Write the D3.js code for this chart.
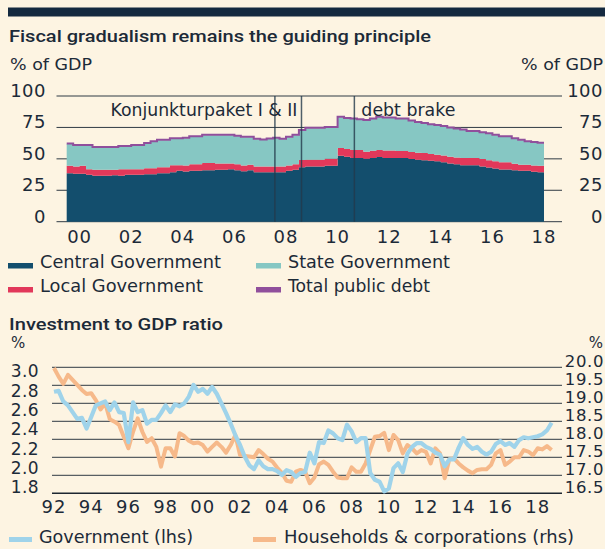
<!DOCTYPE html>
<html><head><meta charset="utf-8">
<script src="https://cdn.jsdelivr.net/npm/d3@7"></script>
<style>body{margin:0;background:#fdf4e2}</style>
</head><body>
<svg id="c" width="605" height="549"></svg>
<script>
// ---------- DATA: fiscal chart (quarterly, from 2000 Q1, % of GDP) ----------
const fiscalStartYear = 2000;
const centralGov = [38.6,38.1,38.1,37.3,36.5,36.5,36.5,36.9,36.5,37.3,
  37.3,37.3,37.8,37.8,38.6,38.6,39.4,40.5,40.0,40.5,
  40.5,41.0,41.0,41.3,41.3,41.8,41.0,40.2,41.0,39.4,
  39.4,39.4,39.4,39.4,40.5,41.3,43.4,44.0,44.0,44.0,
  44.5,44.5,52.4,51.6,50.6,50.6,50.0,50.6,51.4,50.6,
  50.6,50.6,50.6,49.8,49.3,48.8,48.4,48.0,47.2,46.4,
  45.8,45.0,45.0,45.0,44.0,43.2,42.4,41.6,41.6,41.0,
  40.5,40.5,39.7,39.4];
const localGov = [5.9,5.9,6.4,4.5,4.8,4.8,4.8,4.4,5.3,4.5,
  4.5,4.5,4.8,4.8,4.8,4.8,5.6,4.5,4.8,5.3,
  5.3,5.6,5.6,5.0,5.0,4.5,4.8,4.6,4.4,4.6,
  4.6,4.6,4.6,4.6,4.3,4.5,5.6,5.3,5.3,5.3,
  5.5,5.5,6.2,6.2,6.4,6.4,5.6,5.8,5.6,6.0,
  6.0,5.7,5.7,5.6,5.5,5.8,5.4,5.2,5.5,5.2,
  5.3,5.6,5.6,5.6,5.8,5.6,5.6,5.6,5.6,5.1,
  4.8,4.8,5.1,5.1];
const stateGov = [17.3,16.7,16.2,18.9,17.8,17.8,17.8,17.8,18.1,18.1,
  18.9,18.9,19.7,21.0,21.3,21.3,21.0,21.0,21.5,21.8,
  21.8,22.1,22.1,22.4,22.4,22.4,22.1,22.3,21.7,21.5,
  21.0,21.7,22.3,21.5,22.3,22.9,23.5,25.0,25.0,25.0,
  25.0,25.0,24.4,24.4,24.7,24.1,25.0,25.3,26.0,25.9,
  25.9,25.4,25.4,24.7,24.2,23.6,23.3,23.4,23.1,22.9,
  22.6,22.3,21.2,21.2,21.0,21.2,20.7,20.4,20.4,19.9,
  19.4,18.3,18.3,18.0];
const totalDebt = [61.8,60.7,60.7,60.7,59.1,59.1,59.1,59.1,59.9,59.9,
  60.7,60.7,62.3,63.6,64.7,64.7,66.0,66.0,66.3,67.6,
  67.6,68.7,68.7,68.7,68.7,68.7,67.9,67.1,67.1,65.5,
  65.0,65.7,66.3,65.5,67.1,68.7,72.5,74.3,74.3,74.3,
  75.0,75.0,83.0,82.2,81.7,81.1,80.6,81.7,83.0,82.5,
  82.5,81.7,81.7,80.1,79.0,78.2,77.1,76.6,75.8,74.5,
  73.7,72.9,71.8,71.8,70.8,70.0,68.7,67.6,67.6,66.0,
  64.7,63.6,63.1,62.5];
const fiscalYTicks = [0,25,50,75,100];
const fiscalXTicks = ["00","02","04","06","08","10","12","14","16","18"];
const eventYears = [2008.07, 2009.1, 2011.15];
const eventLabels = ["Konjunkturpaket I & II", "debt brake"];
const fiscalSeriesNames = ["Central Government","State Government","Local Government","Total public debt"];

// ---------- DATA: investment chart (quarterly, from 1992 Q1, %) ----------
const investStartYear = 1992;
const govInvest = [2.85,2.86,2.75,2.71,2.64,2.57,2.58,2.47,2.59,2.71,
  2.73,2.75,2.66,2.74,2.64,2.63,2.33,2.74,2.64,2.66,
  2.52,2.56,2.56,2.63,2.71,2.64,2.72,2.70,2.73,2.80,
  2.92,2.85,2.88,2.83,2.90,2.83,2.73,2.63,2.52,2.40,
  2.30,2.18,2.09,2.05,2.14,2.08,2.05,2.05,2.03,1.99,
  2.04,2.02,1.97,2.01,2.02,2.22,2.11,2.33,2.32,2.45,
  2.42,2.37,2.35,2.51,2.44,2.33,2.37,2.37,2.01,1.94,
  1.92,1.82,1.85,2.06,2.11,2.02,2.21,2.28,2.32,2.32,
  2.28,2.26,2.22,2.20,2.08,2.15,2.15,2.27,2.37,2.30,
  2.26,2.28,2.23,2.20,2.23,2.31,2.34,2.30,2.32,2.28,
  2.35,2.38,2.37,2.38,2.39,2.41,2.45,2.53];
const hhInvest = [19.98,19.74,19.54,19.79,19.65,19.51,19.37,19.26,19.28,19.09,
  18.83,19.00,18.56,18.49,18.40,18.07,17.75,18.21,18.58,18.21,
  17.93,18.03,17.79,17.24,17.75,17.75,17.52,18.17,18.09,17.96,
  17.89,17.91,17.84,17.66,17.79,17.91,17.79,17.63,17.84,18.12,
  17.56,17.54,17.52,17.50,17.70,17.59,17.46,17.38,17.21,17.07,
  16.85,16.82,17.10,17.15,17.10,16.78,16.94,17.31,17.38,17.29,
  17.10,16.94,16.92,16.92,17.22,17.10,17.10,17.33,17.70,18.07,
  18.09,18.18,17.70,18.12,17.98,17.61,17.84,17.75,17.61,17.70,
  17.65,17.33,17.75,17.61,16.92,17.44,17.47,17.33,17.22,17.13,
  17.06,17.15,17.17,17.17,17.29,17.61,17.70,17.29,17.38,17.50,
  17.50,17.70,17.66,17.56,17.75,17.72,17.81,17.70];
const lhsTicks = ["3.0","2.8","2.6","2.4","2.2","2.0","1.8"];
const rhsTicks = ["20.0","19.5","19.0","18.5","18.0","17.5","17.0","16.5"];
const investXTicks = ["92","94","96","98","00","02","04","06","08","10","12","14","16","18"];
const investSeriesNames = ["Government (lhs)","Households & corporations (rhs)"];

// ---------- STYLE ----------
const BG = "#fdf4e2", INK = "#1c2a38", GRID = "#2f3a44";
const C_CENTRAL = "#134e6d", C_STATE = "#86c7c3", C_LOCAL = "#e2385a", C_TOTAL = "#904f9c";
const C_GOV = "#9fd3ea", C_HH = "#f6b98a";
const BODY = "'DejaVu Sans', sans-serif", HEAD = "Roboto, 'DejaVu Sans', sans-serif";

const svg = d3.select("#c");
svg.append("rect").attr("width", 605).attr("height", 549).attr("fill", BG);
svg.append("rect").attr("x", 8).attr("y", 7.5).attr("width", 597).attr("height", 9).attr("fill", "#14293f");

function txt(x, y, s, o = {}) {
  const t = svg.append("text").attr("x", x).attr("y", y).text(s)
    .attr("fill", o.fill || INK)
    .attr("font-family", o.family || BODY)
    .attr("font-size", o.size || 17)
    .attr("font-weight", o.weight || 400)
    .attr("text-anchor", o.anchor || "start");
  if (o.ls) t.attr("letter-spacing", o.ls);
  if (o.len) t.attr("textLength", o.len).attr("lengthAdjust", "spacingAndGlyphs");
  return t;
}

// ---------- TOP CHART ----------
txt(9, 42.3, "Fiscal gradualism remains the guiding principle", {family: HEAD, size: 16.5, weight: 500, len: 422});
txt(10, 70, "% of GDP", {size: 16.5, len: 82});
txt(603, 70, "% of GDP", {size: 16.5, anchor: "end", len: 82});

const xT = d3.scaleLinear().domain([fiscalStartYear, fiscalStartYear + 18.5]).range([66.7, 544]);
const yT = d3.scaleLinear().domain([0, 100]).range([221.7, 96]);

const gGridT = svg.append("g");
fiscalYTicks.forEach(v => {
  gGridT.append("line").attr("x1", 56.5).attr("x2", 562).attr("y1", yT(v)).attr("y2", yT(v))
    .attr("stroke", GRID).attr("stroke-width", 1);
  txt(46, yT(v) + 1, String(v), {size: 18, anchor: "end", ls: 0.5});
  txt(603, yT(v) + 1, String(v), {size: 18, anchor: "end", ls: 0.5});
});

const n = centralGov.length;
const rows = d3.range(n + 1).map(i => {
  const k = Math.min(i, n - 1);
  return {t: fiscalStartYear + i / 4, central: centralGov[k], local: localGov[k], state: stateGov[k], total: totalDebt[k]};
});
const stack = d3.stack().keys(["central", "local", "state"])(rows);
const colors = {central: C_CENTRAL, local: C_LOCAL, state: C_STATE};
const area = d3.area().curve(d3.curveStepAfter)
  .x(d => xT(d.data.t)).y0(d => yT(d[0])).y1(d => yT(d[1]));
svg.append("g").selectAll("path").data(stack).join("path")
  .attr("d", area).attr("fill", d => colors[d.key]);
svg.append("path").datum(rows)
  .attr("d", d3.line().curve(d3.curveStepAfter).x(d => xT(d.t)).y(d => yT(d.total) - 0.5))
  .attr("fill", "none").attr("stroke", C_TOTAL).attr("stroke-width", 2);

eventYears.forEach(e => {
  svg.append("line").attr("x1", xT(e)).attr("x2", xT(e)).attr("y1", yT(100)).attr("y2", yT(0))
    .attr("stroke", "#23394b").attr("stroke-opacity", 0.8).attr("stroke-width", 1.5);
});
txt(xT(eventYears[1]) - 4, 116, eventLabels[0], {size: 17, anchor: "end", len: 187});
txt(xT(eventYears[2]) + 7, 116, eventLabels[1], {size: 17, len: 94});

fiscalXTicks.forEach((s, i) => {
  txt(xT(fiscalStartYear + 2 * i + 0.5), 243.3, s, {size: 18, anchor: "middle", ls: 1});
});

// legend top
const legT = [
  {name: fiscalSeriesNames[0], c: C_CENTRAL, x: 8, y: 268, w: 181},
  {name: fiscalSeriesNames[1], c: C_STATE, x: 256, y: 268, w: 162},
  {name: fiscalSeriesNames[2], c: C_LOCAL, x: 8, y: 292, w: 163},
  {name: fiscalSeriesNames[3], c: C_TOTAL, x: 256, y: 292, w: 142}
];
legT.forEach(l => {
  svg.append("rect").attr("x", l.x).attr("y", l.y - 5).attr("width", 25).attr("height", 5.5).attr("fill", l.c);
  txt(l.x + 32, l.y, l.name, {size: 17.5, len: l.w});
});

// ---------- BOTTOM CHART ----------
txt(9, 330, "Investment to GDP ratio", {family: HEAD, size: 16.5, weight: 500, len: 214});
txt(11, 348, "%", {size: 15});
txt(603, 348, "%", {size: 15, anchor: "end"});

const xB = d3.scaleLinear().domain([investStartYear, investStartYear + 26.75]).range([54, 551.6]);
const yL = d3.scaleLinear().domain([1.8, 3.0]).range([493.3, 377.3]);
const yR = d3.scaleLinear().domain([16.5, 20.0]).range([493.3, 367.3]);

rhsTicks.forEach(s => {
  const v = +s;
  svg.append("line").attr("x1", 52).attr("x2", 562).attr("y1", yR(v)).attr("y2", yR(v))
    .attr("stroke", v === 16.5 ? "#1d2630" : GRID).attr("stroke-width", v === 16.5 ? 1.6 : 1);
  txt(604, yR(v), s, {size: 16.5, anchor: "end", ls: 0.6});
});
lhsTicks.forEach(s => txt(39, yL(+s), s, {size: 17, anchor: "end", ls: 0.4}));

const lineB = (arr, y) => d3.line().x((d, i) => xB(investStartYear + i / 4)).y(d => y(d))(arr);
svg.append("path").attr("d", lineB(hhInvest, yR)).attr("fill", "none")
  .attr("stroke", C_HH).attr("stroke-width", 4).attr("stroke-linejoin", "round");
svg.append("path").attr("d", lineB(govInvest, yL)).attr("fill", "none")
  .attr("stroke", C_GOV).attr("stroke-width", 4.2).attr("stroke-linejoin", "round");

investXTicks.forEach((s, i) => {
  txt(xB(investStartYear + 2 * i), 513, s, {size: 18, anchor: "middle", ls: 1});
});

const legB = [
  {name: investSeriesNames[0], c: C_GOV, x: 9, tx: 39, y: 543, w: 154},
  {name: investSeriesNames[1], c: C_HH, x: 253, tx: 284, y: 543, w: 290}
];
legB.forEach(l => {
  svg.append("rect").attr("x", l.x).attr("y", l.y - 6).attr("width", 23).attr("height", 5).attr("fill", l.c);
  txt(l.tx, l.y, l.name, {size: 17.5, len: l.w});
});
</script>
</body></html>
